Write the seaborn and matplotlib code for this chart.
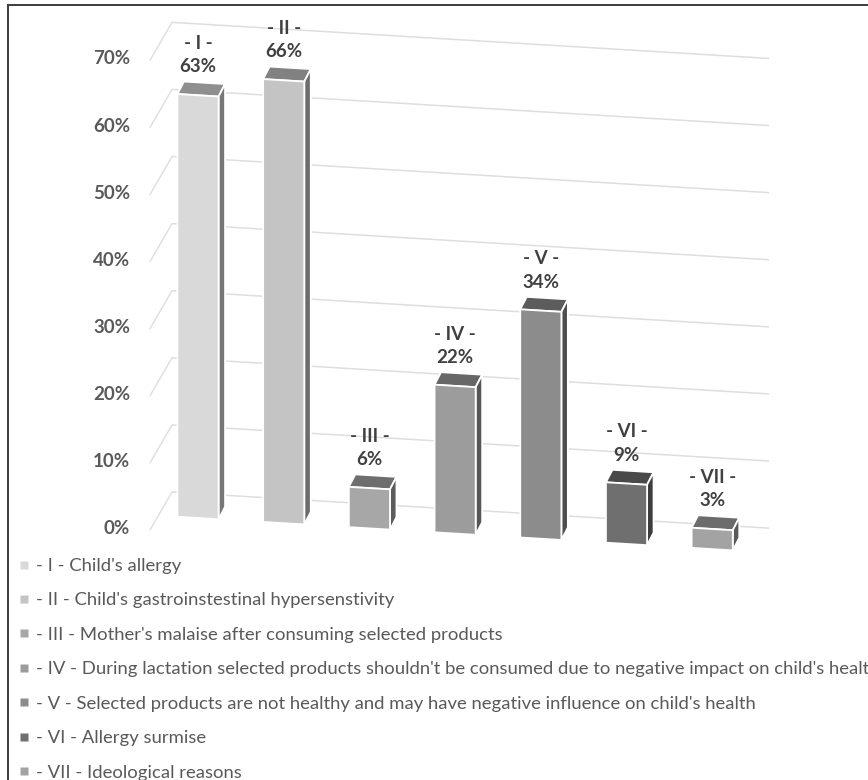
import numpy as np
import pandas as pd
import matplotlib
matplotlib.use("Agg")
import matplotlib.pyplot as plt
import seaborn as sns
from matplotlib import transforms
from matplotlib.patches import Polygon, Rectangle
from matplotlib.lines import Line2D
from matplotlib.colors import to_rgb

# --- data -------------------------------------------------------------
numerals = ["I", "II", "III", "IV", "V", "VI", "VII"]
shares = [63, 66, 6, 22, 34, 9, 3]
reasons = [
    "Child's allergy",
    "Child's gastroinstestinal hypersenstivity",
    "Mother's malaise after consuming selected products",
    "During lactation selected products shouldn't be consumed due to negative impact on child's health",
    "Selected products are not healthy and may have negative influence on child's health",
    "Allergy surmise",
    "Ideological reasons",
]
bar_colors = ["#d9d9d9", "#c4c4c4", "#a7a7a7", "#9c9c9c", "#8c8c8c", "#6f6f6f", "#a3a3a3"]
y_ticks = [0, 10, 20, 30, 40, 50, 60, 70]

# --- style ------------------------------------------------------------
sns.set_theme(style="white")
plt.rcParams["font.family"] = ["Lato", "DejaVu Sans"]

W, H = 868, 780
fig = plt.figure(figsize=(W / 100, H / 100), dpi=100)
ax = fig.add_axes([0, 0, 1, 1])

df = pd.DataFrame({"reason": numerals, "share": shares})
sns.barplot(data=df, x="reason", y="share", hue="reason", palette=bar_colors,
            saturation=1, width=0.48, legend=False, ax=ax,
            edgecolor="white", linewidth=1.3, zorder=4)

# pixel scale of the bar plane
px_per_cat = 85.7
px_per_pct = 6.71
x0_px, base_px = 198, 262          # category 0 / 0 % in figure pixels
ax.set_xlim(-x0_px / px_per_cat, (W - x0_px) / px_per_cat)
ax.set_ylim(-base_px / px_per_pct, (H - base_px) / px_per_pct)
ax.axis("off")

# perspective-like shear: everything drifts down to the right
slope_px = 0.0605
k = slope_px * W / H
xa0 = x0_px / W
shear_ax = transforms.Affine2D().translate(-xa0, 0).skew(0, np.arctan(-k)).translate(xa0, 0)
shear = ax.transData + ax.transAxes.inverted() + shear_ax + ax.transAxes

bars = list(ax.patches)
for p in bars:
    p.set_transform(shear)

def shade(c, f):
    r, g, b = to_rgb(c)
    return (r * f, g * f, b * f)

# depth of each bar (right / up), expressed in data units
bd_px, bu_px = 6.5, 12.5
bdx = bd_px / px_per_cat
bdy = (bu_px + slope_px * bd_px) / px_per_pct

for p, c, num, v in zip(bars, bar_colors, numerals, shares):
    x_l = p.get_x()
    x_r = x_l + p.get_width()
    h = p.get_height()
    top = Polygon([(x_l, h), (x_r, h), (x_r + bdx, h + bdy), (x_l + bdx, h + bdy)],
                  closed=True, fc=shade(c, 0.66), ec="white", lw=1.3,
                  transform=shear, zorder=3)
    side = Polygon([(x_r, 0), (x_r, h), (x_r + bdx, h + bdy), (x_r + bdx, bdy)],
                   closed=True, fc=shade(c, 0.55), ec="white", lw=1.3,
                   transform=shear, zorder=3)
    ax.add_patch(top)
    ax.add_patch(side)
    ax.annotate(f"- {num} -\n{v}%", xy=(x_l + p.get_width() / 2, h + bdy),
                xycoords=shear, xytext=(0, 7), textcoords="offset pixels",
                ha="center", va="bottom", multialignment="center",
                fontsize=13.5, fontweight="bold", color="#404040",
                linespacing=1.45, zorder=6)

# back wall gridlines and left wall strokes
wall_up = 24.4 / px_per_pct
wall_x0 = (172 - x0_px) / px_per_cat
wall_x1 = (769 - x0_px) / px_per_cat
front_x = (150 - x0_px) / px_per_cat
front_dy = 2.22
label_x = (130 - x0_px) / px_per_cat
for t in y_ticks:
    ax.plot([wall_x0, wall_x1], [t + wall_up, t + wall_up], color="#dedede",
            lw=1.1, transform=shear, zorder=1, solid_capstyle="butt")
    ax.plot([front_x, wall_x0], [t - front_dy, t + wall_up], color="#dedede",
            lw=1.0, transform=shear, zorder=1)
    ax.text(label_x, t - 2.2, f"{t}%", transform=shear, ha="right", va="center",
            fontsize=13.5, fontweight="bold", color="#595959", zorder=6)

# legend
handles = [Line2D([], [], ls="none", marker="s", markersize=5.2, mfc=c, mec="none")
           for c in bar_colors]
labels = [f"- {n} - {r}" for n, r in zip(numerals, reasons)]
fig.legend(handles, labels, loc="upper left", bbox_to_anchor=(19 / W, 1 - 558 / H),
           frameon=False, fontsize=13.3, labelcolor="#595959", handlelength=0.55,
           handletextpad=0.35, labelspacing=1.0, borderpad=0, borderaxespad=0)

# chart border (runs off the right and bottom edges)
fig.add_artist(Rectangle((8 / W, -0.1), 1.2, 1.1 - 5 / H, transform=fig.transFigure,
                         fill=False, ec="#3c3c3c", lw=1.4))

fig.savefig("out.png", dpi=100, facecolor="white")
